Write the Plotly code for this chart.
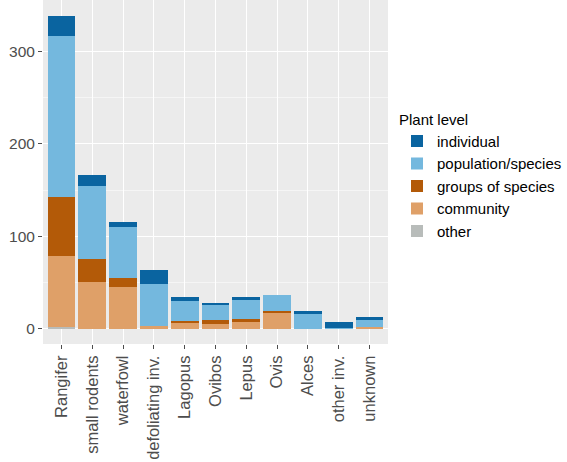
import plotly.graph_objects as go

categories = ["Rangifer", "small rodents", "waterfowl", "defoliating inv.", "Lagopus",
              "Ovibos", "Lepus", "Ovis", "Alces", "other inv.", "unknown"]
other      = [2, 0, 0, 0, 0, 0, 0, 0, 0, 0, 0]
community  = [77, 51, 45, 3, 6, 5, 7, 18, 0, 0, 2]
groups     = [63, 24, 10, 0, 3, 5, 4, 1, 0, 0, 0]
population = [174, 79, 55, 46, 21, 16, 20, 18, 17, 1, 8]
individual = [22, 12, 5, 15, 5, 2, 3, 0, 2, 6, 3]

series = [
    ("individual", individual, "#0A64A0"),
    ("population/species", population, "#74B8DE"),
    ("groups of species", groups, "#B35A08"),
    ("community", community, "#DFA068"),
    ("other", other, "#B8BCBA"),
]

fig = go.Figure()
# stack bottom to top: other, community, groups, population, individual
for name, vals, color in reversed(series):
    fig.add_trace(go.Bar(x=categories, y=vals, name=name, marker_color=color,
                         marker_line_width=0, width=0.9))

font = "Liberation Sans, Arial, sans-serif"
fig.update_layout(
    barmode="stack",
    width=567, height=462,
    margin=dict(l=43, r=178, t=0, b=118),
    paper_bgcolor="white",
    plot_bgcolor="#EBEBEB",
    font=dict(family=font, color="#4D4D4D"),
    showlegend=True,
    legend=dict(
        title=dict(text="Plant level", font=dict(size=15, color="black")),
        traceorder="reversed",
        x=1.025, xanchor="left", y=0.694, yanchor="top",
        font=dict(size=15, color="black"),
        bgcolor="rgba(0,0,0,0)",
        tracegroupgap=0,
        itemwidth=30,
    ),
    bargap=0.1,
)
fig.update_xaxes(
    range=[-0.6, 10.6],
    automargin=False,
    showgrid=True, gridcolor="white", gridwidth=1.2,
    tickangle=-90, tickfont=dict(size=16.5, color="#4D4D4D"),
    ticks="outside", ticklen=4, tickcolor="#4D4D4D",
    zeroline=False, showline=False,
)
fig.update_yaxes(
    range=[-16.3, 355.2],
    automargin=False,
    tickvals=[0, 100, 200, 300],
    showgrid=True, gridcolor="white", gridwidth=1.2,
    minor=dict(tickvals=[50, 150, 250], showgrid=True, gridcolor="#F5F5F5", gridwidth=0.8),
    tickfont=dict(size=15.5, color="#4D4D4D"),
    ticks="outside", ticklen=4, tickcolor="#4D4D4D",
    zeroline=False, showline=False,
)

fig.write_html("out.html", config={"displayModeBar": False},
               post_script="document.body.style.margin='0';")
